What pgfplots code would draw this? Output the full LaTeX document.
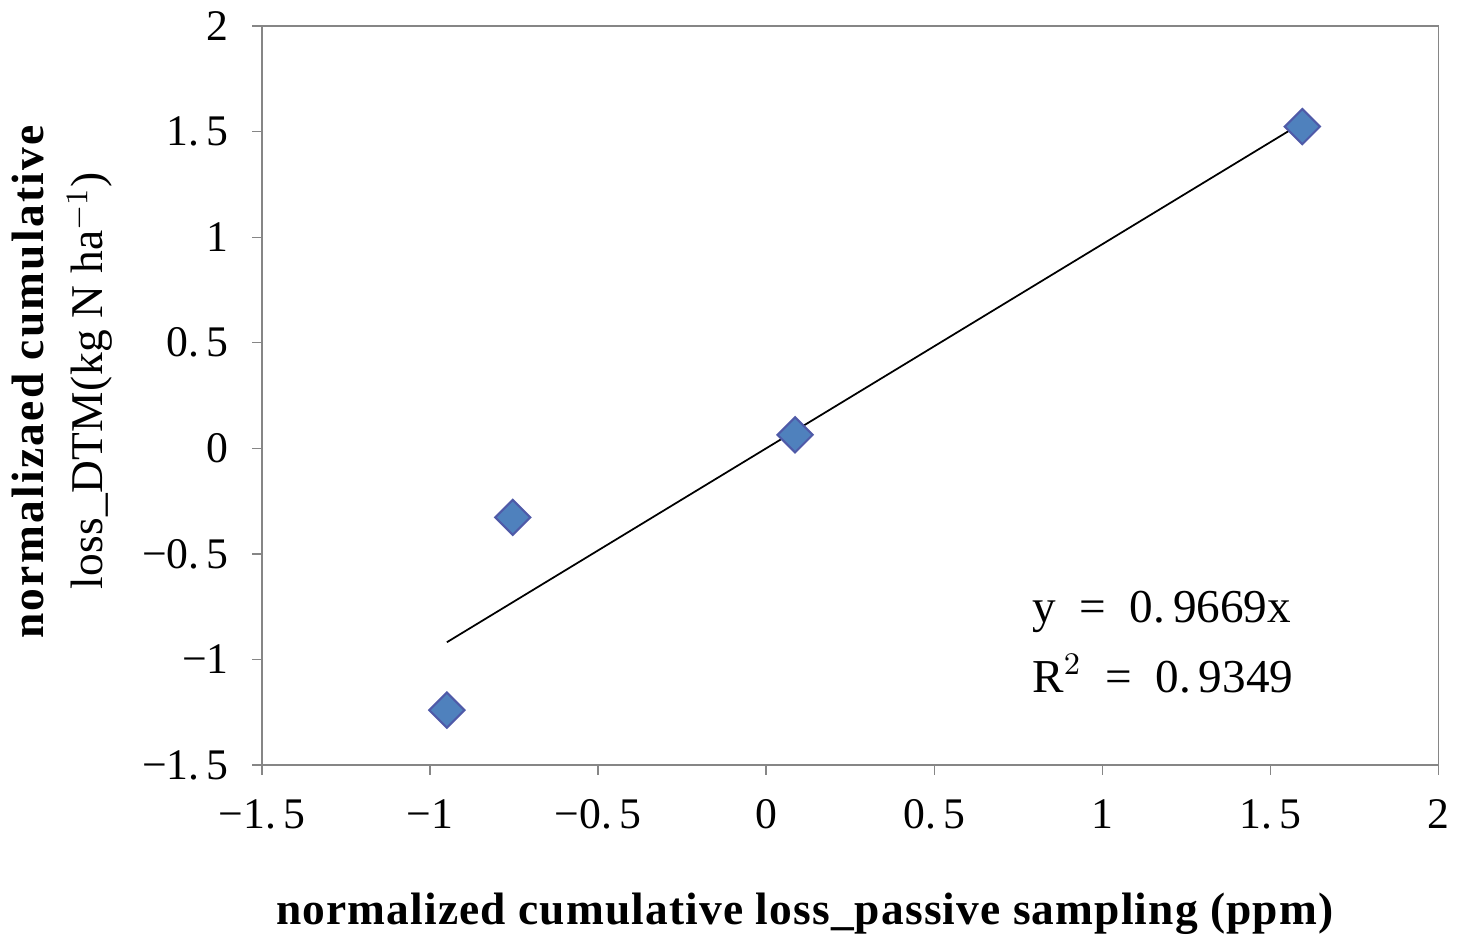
\documentclass[border=0pt]{standalone}
\usepackage{fontspec}
\setmainfont{Liberation Serif}
\usepackage{pgfplots}
\pgfplotsset{compat=1.18}
\definecolor{pfill}{HTML}{4F81BD}
\definecolor{pedge}{HTML}{4F5AA8}
\definecolor{axgray}{HTML}{868686}
\begin{document}
\begin{tikzpicture}
\begin{axis}[
  scale only axis,
  width=11.83cm, height=7.43cm,
  xmin=-1.5, xmax=2, ymin=-1.5, ymax=2,
  xtick={-1.5,-1,-0.5,0,0.5,1,1.5,2},
  ytick={-1.5,-1,-0.5,0,0.5,1,1.5,2},
  xticklabels={−1.\,5,−1,−0.\,5,0,0.\,5,1,1.\,5,2},
  yticklabels={−1.\,5,−1,−0.\,5,0,0.\,5,1,1.\,5,2},
  tick align=outside,
  major tick length=1mm,
  axis line style={axgray},
  every tick/.style={axgray},
  tick label style={font=\fontsize{12.5}{14}\selectfont},
  xtick pos=bottom, ytick pos=left,
  xticklabel style={yshift=-1.2mm},
  yticklabel style={xshift=-1.1mm},
  xlabel={\textbf{\addfontfeature{LetterSpace=2.5}normalized cumulative loss\_passive sampling (ppm)}},
  xlabel style={font=\fontsize{13}{15}\selectfont, at={(axis description cs:0.462,0)}, anchor=center, yshift=-1.5cm},
  ylabel={\textbf{\addfontfeature{LetterSpace=5}normalizaed cumulative}\\{\addfontfeature{LetterSpace=1}loss\_DTM(kg N ha$^{-1}$)}},
  ylabel style={font=\fontsize{13}{17}\selectfont, align=center, at={(axis description cs:-0.17,0.52)}, anchor=center},
  clip=false,
]
\addplot[only marks, mark=square*, mark size=1.25mm,
  mark options={rotate=45, fill=pfill, draw=pedge, line width=0.6pt}]
  coordinates {(-0.95,-1.24) (-0.754,-0.327) (0.086,0.064) (1.595,1.524)};
\addplot[black, line width=0.5pt] coordinates {(-0.95,-0.9186) (1.595,1.5422)};
\node[anchor=west, align=left, font=\fontsize{13.5}{17}\selectfont, inner sep=0pt]
  at (axis cs:0.79,-0.92) {y \ = \ 0.\,9669x\\[3pt]R$^{2}$ \ = \ 0.\,9349};
\end{axis}
\end{tikzpicture}
\end{document}
